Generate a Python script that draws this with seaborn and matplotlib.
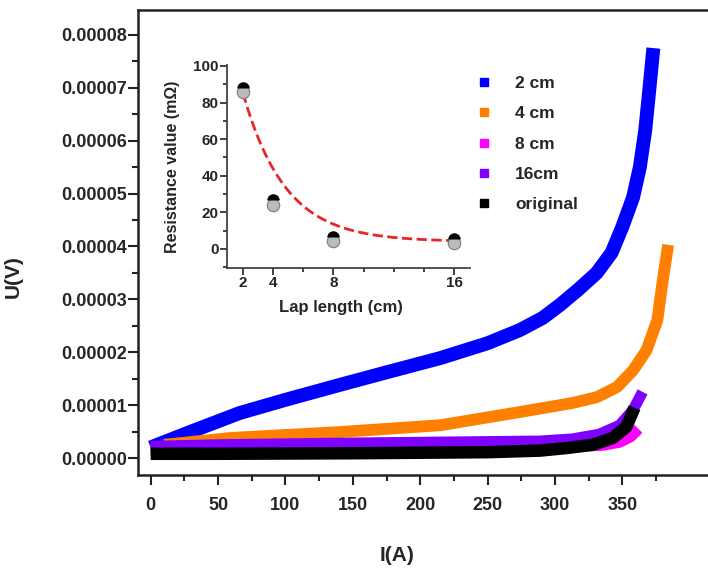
import numpy as np
import pandas as pd
import matplotlib
matplotlib.use("Agg")
import matplotlib.pyplot as plt
from matplotlib.ticker import FormatStrFormatter, MultipleLocator, FixedLocator
from matplotlib.lines import Line2D
import seaborn as sns

# --- main panel: U-I curves (I in A, U in 1e-5 V) ---
i_2cm = [0, 30, 66, 100, 140, 175, 215, 250, 274, 291, 304, 318, 331, 342, 350, 358, 363, 367, 370, 373]
u_2cm = [0.2, 0.5, 0.85, 1.1, 1.38, 1.62, 1.89, 2.17, 2.42, 2.65, 2.9, 3.2, 3.5, 3.88, 4.37, 4.93, 5.5, 6.2, 6.96, 7.75]

i_4cm = [10, 60, 140, 215, 274, 313, 331, 346, 358, 368, 376, 380, 384]
u_4cm = [0.25, 0.38, 0.49, 0.62, 0.87, 1.04, 1.15, 1.34, 1.66, 2.04, 2.61, 3.36, 4.03]

i_8cm = [0, 100, 200, 300, 335, 348, 356, 362]
u_8cm = [0.15, 0.17, 0.19, 0.21, 0.24, 0.3, 0.4, 0.55]

i_16cm = [0, 50, 140, 215, 289, 313, 333, 348, 358, 365]
u_16cm = [0.22, 0.25, 0.28, 0.30, 0.32, 0.36, 0.45, 0.62, 0.91, 1.25]

i_orig = [0, 50, 150, 250, 289, 309, 328, 343, 353, 359]
u_orig = [0.08, 0.08, 0.09, 0.11, 0.14, 0.19, 0.25, 0.38, 0.59, 0.95]

labels = ["2 cm", "4 cm", "8 cm", "16cm", "original"]
colors = ["#0000ff", "#ff8000", "#ff00ff", "#8000ff", "#000000"]

# --- inset: resistance vs lap length ---
lap_len = [2, 4, 8, 16]
res_a = [88, 26.5, 6.5, 5.5]
res_b = [86, 24, 4.5, 3.5]
fit_amp, fit_tau, fit_y0 = 166.0, 2.8, 4.0

sns.set_theme(style="ticks")
plt.rcParams["font.family"] = ["Liberation Sans", "DejaVu Sans"]
plt.rcParams["font.weight"] = "bold"
plt.rcParams["axes.labelweight"] = "bold"

fig = plt.figure(figsize=(7.08, 5.72), dpi=100)
ax = fig.add_axes([0.1949, 0.1696, 0.8107, 0.8129])

series = [(i_2cm, u_2cm), (i_4cm, u_4cm), (i_8cm, u_8cm), (i_16cm, u_16cm), (i_orig, u_orig)]
widths = [10, 8.5, 8, 8, 9]
for (ii, uu), lab, col, lw in zip(series, labels, colors, widths):
    df = pd.DataFrame({"I": ii, "U": np.array(uu) * 1e-5})
    sns.lineplot(data=df, x="I", y="U", ax=ax, color=col, linewidth=lw,
                 sort=False, estimator=None, legend=False,
                 solid_joinstyle="round", solid_capstyle="butt")

ax.set_xlim(-9.4, 416.5)
ax.set_ylim(-0.321e-5, 8.47e-5)
ax.xaxis.set_major_locator(FixedLocator(np.arange(0, 351, 50)))
ax.xaxis.set_minor_locator(FixedLocator(np.arange(25, 376, 50)))
ax.yaxis.set_major_locator(MultipleLocator(1e-5))
ax.yaxis.set_minor_locator(MultipleLocator(0.5e-5))
ax.yaxis.set_major_formatter(FormatStrFormatter("%.5f"))
ax.tick_params(axis="both", which="major", direction="out", length=7, width=1.5,
               labelsize=13, color="#222222")
ax.tick_params(axis="both", which="minor", direction="out", length=4, width=1.5,
               color="#222222")
ax.tick_params(axis="x", which="major", pad=9)
ax.tick_params(axis="y", which="major", pad=1)
for lab in ax.get_xticklabels() + ax.get_yticklabels():
    lab.set_fontweight("bold")
for s in ["left", "bottom", "top"]:
    ax.spines[s].set_linewidth(1.8)
    ax.spines[s].set_color("#222222")
ax.spines["right"].set_visible(False)
ax.set_xlabel("I(A)", fontsize=15, fontweight="bold")
ax.set_ylabel("U(V)", fontsize=15, fontweight="bold")
ax.xaxis.set_label_coords(0.451, -0.152)
ax.yaxis.set_label_coords(-0.2, 0.426)

handles = [Line2D([], [], linestyle="", marker="s", markersize=5.5, color=c) for c in colors]
fig.legend(handles, labels, loc="upper left", bbox_to_anchor=(0.671, 0.867),
           frameon=False, handlelength=1.0, handletextpad=1.3,
           labelspacing=0.87, borderpad=0, borderaxespad=0,
           prop={"weight": "bold", "size": 12.5})

# inset
axin = fig.add_axes([0.3206, 0.5315, 0.3432, 0.3549])
axin.patch.set_alpha(0)
x_fit = np.linspace(lap_len[0], lap_len[-1], 200)
fit_df = pd.DataFrame({"L": x_fit, "R": fit_y0 + fit_amp * np.exp(-x_fit / fit_tau)})
sns.lineplot(data=fit_df, x="L", y="R", ax=axin, color="#e8262a", linewidth=2,
             linestyle="--", dashes=(2, 1), legend=False)
pts = pd.DataFrame({"L": lap_len, "Ra": res_a, "Rb": res_b})
sns.lineplot(data=pts, x="L", y="Rb", ax=axin, linestyle="", marker="o", markersize=9,
             color="#888888", markerfacecolor="#bbbbbb", markeredgecolor="#777777",
             estimator=None, legend=False)
sns.lineplot(data=pts, x="L", y="Ra", ax=axin, linestyle="", marker="o", markersize=9,
             fillstyle="top", markerfacecolor="black", markerfacecoloralt="none",
             markeredgecolor="none", estimator=None, legend=False)

axin.set_xlim(0.94, 17.06)
axin.set_ylim(-10.4, 100.5)
axin.xaxis.set_major_locator(FixedLocator(lap_len))
axin.xaxis.set_minor_locator(FixedLocator([6, 10, 12, 14]))
axin.yaxis.set_major_locator(MultipleLocator(20))
axin.yaxis.set_minor_locator(MultipleLocator(10))
axin.tick_params(axis="both", which="major", direction="out", length=5, width=1.3,
                 labelsize=11, pad=1, color="#333333")
axin.tick_params(axis="both", which="minor", direction="out", length=3, width=1.3,
                 color="#333333")
for lab in axin.get_xticklabels() + axin.get_yticklabels():
    lab.set_fontweight("bold")
for s in ["top", "right"]:
    axin.spines[s].set_visible(False)
for s in ["left", "bottom"]:
    axin.spines[s].set_linewidth(1.3)
    axin.spines[s].set_color("#444444")
axin.set_xlabel("Lap length (cm)", fontsize=12, fontweight="bold")
axin.set_ylabel("Resistance value (m\u03a9)", fontsize=11.5, fontweight="bold")
axin.xaxis.set_label_coords(0.469, -0.158)
axin.yaxis.set_label_coords(-0.193, 0.497)

fig.savefig("out.png", dpi=100)
